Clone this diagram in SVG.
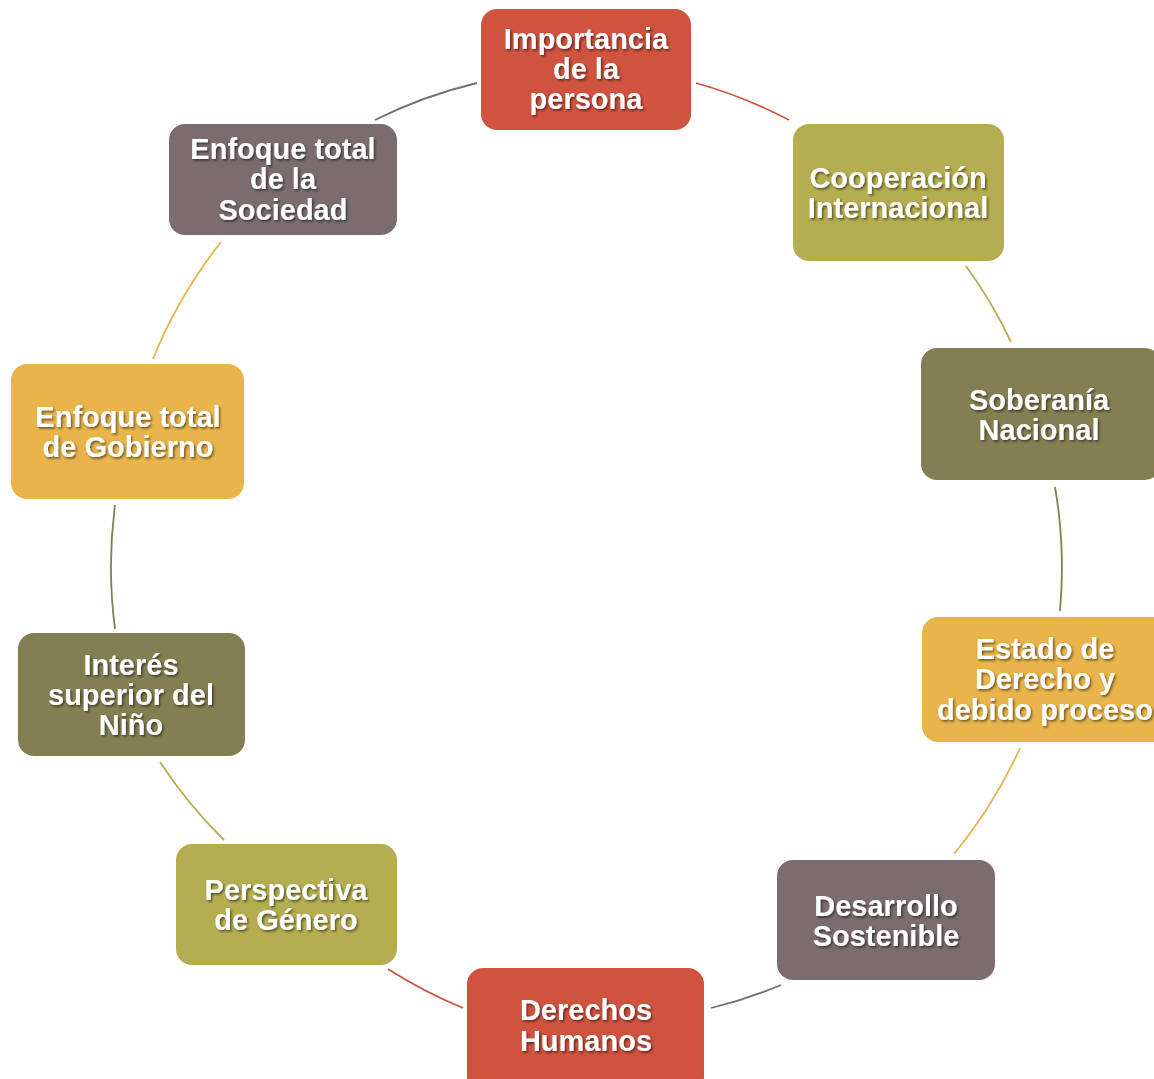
<svg xmlns="http://www.w3.org/2000/svg" width="1154" height="1079" viewBox="0 0 1154 1079">
<defs>
<filter id="ts" x="-10%" y="-20%" width="120%" height="150%">
<feDropShadow dx="1.5" dy="1.8" stdDeviation="1" flood-color="#000" flood-opacity="0.5"/>
</filter>
</defs>
<style>
.lbl{font-family:"Liberation Sans",Arial,sans-serif;font-weight:bold;font-size:29px;fill:#fff;text-anchor:middle;filter:url(#ts)}
.c{fill:none;stroke-width:1.8}
.red{fill:#D0533F}.oli{fill:#B5AE51}.kha{fill:#847F53}.yel{fill:#E8B44B}.gry{fill:#7B6D6F}
</style>
<rect width="1154" height="1079" fill="#fff"/>
<g id="connectors">
<path class="c" stroke="#D0533F" d="M696,83 A476,476 0 0 1 789,120"/>
<path class="c" stroke="#B5AE51" d="M966,266 A476,476 0 0 1 1011,342"/>
<path class="c" stroke="#847F53" d="M1055,487 A476,476 0 0 1 1060,611"/>
<path class="c" stroke="#E8B44B" d="M1020,748 A476,476 0 0 1 954,854"/>
<path class="c" stroke="#7B6D6F" d="M781,985 A476,476 0 0 1 711,1008"/>
<path class="c" stroke="#D0533F" d="M463,1008 A476,476 0 0 1 388,969"/>
<path class="c" stroke="#B5AE51" d="M224,840 A476,476 0 0 1 160,762"/>
<path class="c" stroke="#847F53" d="M115,629 A476,476 0 0 1 115,505"/>
<path class="c" stroke="#E8B44B" d="M153,359 A476,476 0 0 1 221,242"/>
<path class="c" stroke="#7B6D6F" d="M375,120 A476,476 0 0 1 477,83"/>
</g>
<g id="n1"><rect class="red" x="481" y="9" width="210" height="121" rx="16"/>
<text class="lbl" x="586" y="49">Importancia</text><text class="lbl" x="586" y="79">de la</text><text class="lbl" x="586" y="109">persona</text></g>
<g id="n2"><rect class="oli" x="793" y="124" width="211" height="137" rx="16"/>
<text class="lbl" x="898" y="188">Cooperación</text><text class="lbl" x="898" y="218">Internacional</text></g>
<g id="n3"><rect class="kha" x="921" y="348" width="240" height="132" rx="16"/>
<text class="lbl" x="1039" y="410">Soberanía</text><text class="lbl" x="1039" y="440">Nacional</text></g>
<g id="n4"><rect class="yel" x="922" y="617" width="246" height="125" rx="16"/>
<text class="lbl" x="1045" y="659">Estado de</text><text class="lbl" x="1045" y="689">Derecho y</text><text class="lbl" x="1045" y="720">debido proceso</text></g>
<g id="n5"><rect class="gry" x="777" y="860" width="218" height="120" rx="16"/>
<text class="lbl" x="886" y="916">Desarrollo</text><text class="lbl" x="886" y="946">Sostenible</text></g>
<g id="n6"><rect class="red" x="467" y="968" width="237" height="125" rx="16"/>
<text class="lbl" x="586" y="1020">Derechos</text><text class="lbl" x="586" y="1051">Humanos</text></g>
<g id="n7"><rect class="oli" x="176" y="844" width="221" height="121" rx="16"/>
<text class="lbl" x="286" y="900">Perspectiva</text><text class="lbl" x="286" y="930">de Género</text></g>
<g id="n8"><rect class="kha" x="18" y="633" width="227" height="123" rx="16"/>
<text class="lbl" x="131" y="675">Interés</text><text class="lbl" x="131" y="705">superior del</text><text class="lbl" x="131" y="735">Niño</text></g>
<g id="n9"><rect class="yel" x="11" y="364" width="233" height="135" rx="16"/>
<text class="lbl" x="128" y="427">Enfoque total</text><text class="lbl" x="128" y="457">de Gobierno</text></g>
<g id="n10"><rect class="gry" x="169" y="124" width="228" height="111" rx="16"/>
<text class="lbl" x="283" y="159">Enfoque total</text><text class="lbl" x="283" y="189">de la</text><text class="lbl" x="283" y="220">Sociedad</text></g>
</svg>
